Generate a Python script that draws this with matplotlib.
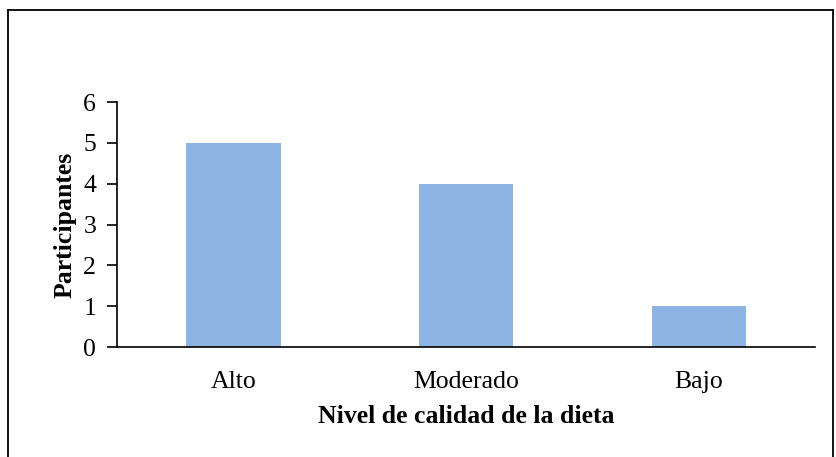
import matplotlib
matplotlib.use("Agg")
import matplotlib.pyplot as plt
from matplotlib.lines import Line2D

categorias = ["Alto", "Moderado", "Bajo"]
participantes = [5, 4, 1]

plt.rcParams['font.family'] = ['Liberation Serif', 'DejaVu Serif']

fig = plt.figure(figsize=(8.36, 4.57), dpi=100)
ax = fig.add_axes([0.140, 0.2407, 0.835, 0.536])

x = range(len(categorias))
ax.bar(x, participantes, width=0.405, color="#8EB4E3")

ax.set_xlim(-0.5, len(categorias) - 0.5)
ax.set_ylim(0, 6)
ax.set_yticks(range(0, 7))
ax.set_xticks(list(x))
ax.set_xticklabels(categorias)
ax.tick_params(axis='y', labelsize=18.5, length=7, width=1.2, direction='out', pad=8)
ax.tick_params(axis='x', labelsize=18.5, length=0, pad=17)

for s in ['top', 'right']:
    ax.spines[s].set_visible(False)
ax.spines['left'].set_linewidth(1.2)
ax.spines['bottom'].set_linewidth(1.2)

ax.set_ylabel("Participantes", fontsize=18.5, fontweight='bold', labelpad=5)
ax.set_xlabel("Nivel de calidad de la dieta", fontsize=18.5, fontweight='bold', labelpad=9)

# marco exterior
x0, x1 = 8 / 836, 833 / 836
y1 = 1 - 10 / 457
for xs, ys in [([x0, x0], [0, y1]), ([x0, x1], [y1, y1]), ([x1, x1], [y1, 0])]:
    fig.add_artist(Line2D(xs, ys, color='black', lw=1.3, transform=fig.transFigure))

fig.savefig("out.png", dpi=100)
